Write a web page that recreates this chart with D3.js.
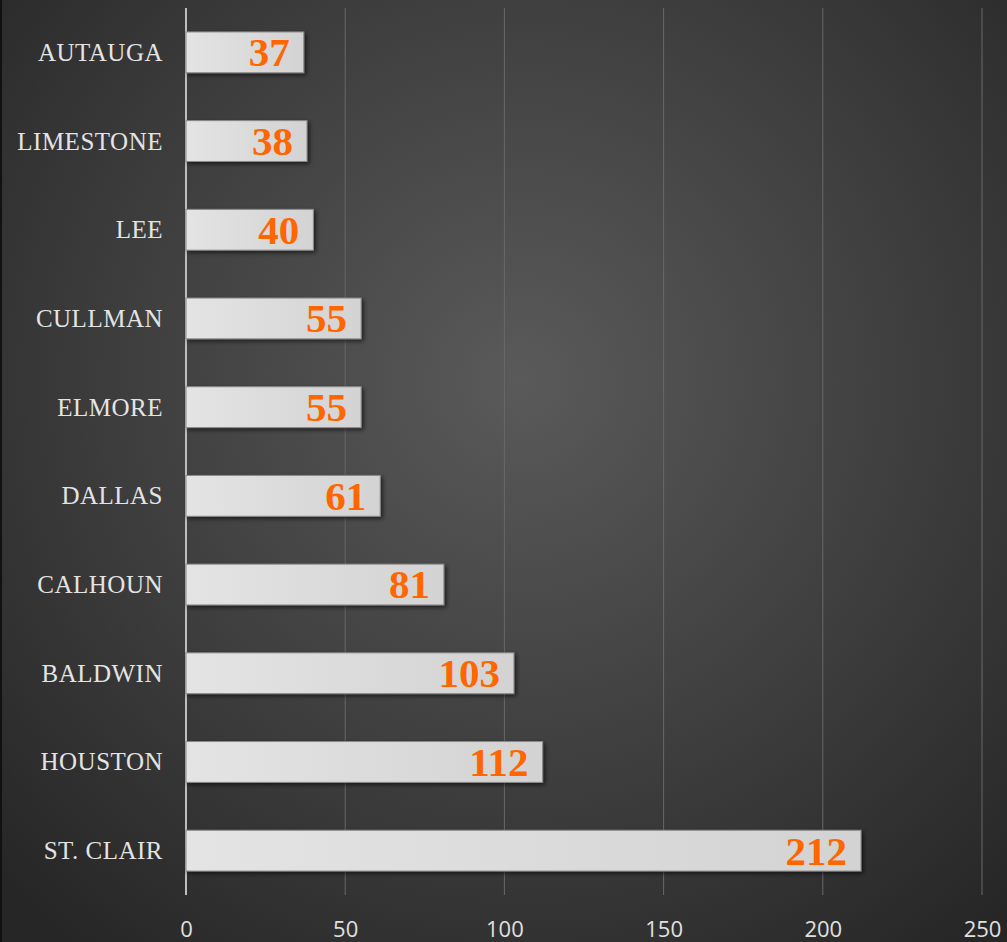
<!DOCTYPE html>
<html>
<head>
<meta charset="utf-8">
<script src="https://cdn.jsdelivr.net/npm/d3@7"></script>
<style>
  html, body { margin: 0; padding: 0; background: #2b2b2b; }
  svg { display: block; }
</style>
</head>
<body>
<div id="chart"></div>
<script>
const counties = ["AUTAUGA", "LIMESTONE", "LEE", "CULLMAN", "ELMORE", "DALLAS", "CALHOUN", "BALDWIN", "HOUSTON", "ST. CLAIR"];
const counts = [37, 38, 40, 55, 55, 61, 81, 103, 112, 212];
const xTicks = [0, 50, 100, 150, 200, 250];

const data = counties.map((c, i) => ({ county: c, value: counts[i] }));

const W = 1007, H = 942;
const margin = { top: 8, right: 25, bottom: 47, left: 186 };

const svg = d3.select("#chart").append("svg")
    .attr("width", W)
    .attr("height", H);

const defs = svg.append("defs");

// background radial glow
const bg = defs.append("radialGradient")
    .attr("id", "bg")
    .attr("gradientUnits", "userSpaceOnUse")
    .attr("cx", 520).attr("cy", 380).attr("r", 720);
bg.append("stop").attr("offset", "0%").attr("stop-color", "#5a5a5a");
bg.append("stop").attr("offset", "55%").attr("stop-color", "#3e3e3e");
bg.append("stop").attr("offset", "100%").attr("stop-color", "#262626");

const barGrad = defs.append("linearGradient")
    .attr("id", "barGrad")
    .attr("x1", "0%").attr("x2", "100%").attr("y1", "0%").attr("y2", "0%");
barGrad.append("stop").attr("offset", "0%").attr("stop-color", "#e4e4e4");
barGrad.append("stop").attr("offset", "100%").attr("stop-color", "#d3d3d3");

const shadow = defs.append("filter")
    .attr("id", "shadow")
    .attr("x", "-5%").attr("y", "-30%").attr("width", "115%").attr("height", "170%");
shadow.append("feDropShadow")
    .attr("dx", 2).attr("dy", 2).attr("stdDeviation", 2)
    .attr("flood-color", "#000").attr("flood-opacity", 0.6);

svg.append("rect")
    .attr("width", W).attr("height", H)
    .attr("fill", "url(#bg)");

// thin dark strip on the left edge
svg.append("rect")
    .attr("x", 0).attr("y", 0).attr("width", 2).attr("height", H)
    .attr("fill", "#111");

const x = d3.scaleLinear()
    .domain([0, 250])
    .range([margin.left, 982]);

const y = d3.scaleBand()
    .domain(counties)
    .range([margin.top, H - margin.bottom])
    .paddingInner(0.54)
    .paddingOuter(0.27);

// gridlines
svg.append("g")
    .selectAll("line")
    .data(xTicks.slice(1))
    .enter()
    .append("line")
    .attr("x1", d => x(d)).attr("x2", d => x(d))
    .attr("y1", margin.top).attr("y2", H - margin.bottom)
    .attr("stroke", "#686868")
    .attr("stroke-width", 1);

// x axis labels
const xAxis = svg.append("g")
    .attr("transform", `translate(0, ${H - margin.bottom})`)
    .call(d3.axisBottom(x).tickValues(xTicks).tickSize(0).tickPadding(26));
xAxis.select(".domain").remove();
xAxis.selectAll("text")
    .attr("fill", "#e0e0e0")
    .style("font-family", "'Open Sans', 'Liberation Sans', sans-serif")
    .style("font-size", "22px");

// y axis labels
const yAxis = svg.append("g")
    .attr("transform", `translate(${margin.left}, 0)`)
    .call(d3.axisLeft(y).tickSize(0).tickPadding(23));
yAxis.select(".domain").remove();
yAxis.selectAll("text")
    .attr("fill", "#e4e4e4")
    .attr("dy", "0.34em")
    .style("font-family", "'Liberation Serif', 'Times New Roman', serif")
    .style("font-size", "25px")
    .style("letter-spacing", "0.5px");

svg.append("line")
    .attr("x1", margin.left).attr("x2", margin.left)
    .attr("y1", margin.top).attr("y2", H - margin.bottom)
    .attr("stroke", "#bdbdbd")
    .attr("stroke-width", 2);

// bars
svg.append("g")
    .selectAll("rect")
    .data(data)
    .enter()
    .append("rect")
    .attr("x", x(0))
    .attr("y", d => y(d.county))
    .attr("width", d => x(d.value) - x(0))
    .attr("height", y.bandwidth())
    .attr("fill", "url(#barGrad)")
    .attr("stroke", "#8a8a8a")
    .attr("stroke-width", 1)
    .attr("filter", "url(#shadow)");

// value labels
svg.append("g")
    .selectAll("text")
    .data(data)
    .enter()
    .append("text")
    .attr("x", d => x(d.value) - 14)
    .attr("y", d => y(d.county) + y.bandwidth() / 2)
    .attr("dy", "0.34em")
    .attr("text-anchor", "end")
    .attr("fill", "#ff6600")
    .style("font-family", "'Liberation Serif', 'Times New Roman', serif")
    .style("font-weight", "bold")
    .style("font-size", "41px")
    .text(d => d.value);
</script>
</body>
</html>
